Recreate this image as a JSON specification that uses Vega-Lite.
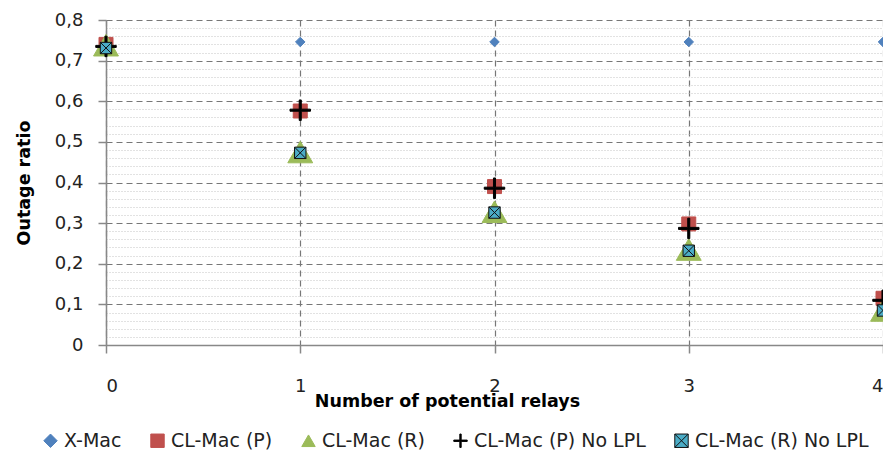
{
  "$schema": "https://vega.github.io/schema/vega-lite/v6.json",
  "autosize": {"type": "none"},
  "padding": {"left": 106, "top": 20, "right": 0, "bottom": 105},
  "width": 777,
  "height": 325,
  "background": "white",
  "config": {
    "font": "DejaVu Sans, sans-serif",
    "view": {"stroke": null}
  },
  "data": {
    "values": [
      {"relays": 0, "ratio": 0.74, "series": "X-Mac"},
      {"relays": 1, "ratio": 0.746, "series": "X-Mac"},
      {"relays": 2, "ratio": 0.746, "series": "X-Mac"},
      {"relays": 3, "ratio": 0.746, "series": "X-Mac"},
      {"relays": 4, "ratio": 0.746, "series": "X-Mac"},
      {"relays": 0, "ratio": 0.74, "series": "CL-Mac (P)"},
      {"relays": 1, "ratio": 0.576, "series": "CL-Mac (P)"},
      {"relays": 2, "ratio": 0.39, "series": "CL-Mac (P)"},
      {"relays": 3, "ratio": 0.298, "series": "CL-Mac (P)"},
      {"relays": 4, "ratio": 0.115, "series": "CL-Mac (P)"},
      {"relays": 0, "ratio": 0.738, "series": "CL-Mac (R)"},
      {"relays": 1, "ratio": 0.475, "series": "CL-Mac (R)"},
      {"relays": 2, "ratio": 0.328, "series": "CL-Mac (R)"},
      {"relays": 3, "ratio": 0.235, "series": "CL-Mac (R)"},
      {"relays": 4, "ratio": 0.085, "series": "CL-Mac (R)"},
      {"relays": 0, "ratio": 0.735, "series": "CL-Mac (P) No LPL"},
      {"relays": 1, "ratio": 0.578, "series": "CL-Mac (P) No LPL"},
      {"relays": 2, "ratio": 0.386, "series": "CL-Mac (P) No LPL"},
      {"relays": 3, "ratio": 0.287, "series": "CL-Mac (P) No LPL"},
      {"relays": 4, "ratio": 0.11, "series": "CL-Mac (P) No LPL"},
      {"relays": 0, "ratio": 0.731, "series": "CL-Mac (R) No LPL"},
      {"relays": 1, "ratio": 0.473, "series": "CL-Mac (R) No LPL"},
      {"relays": 2, "ratio": 0.326, "series": "CL-Mac (R) No LPL"},
      {"relays": 3, "ratio": 0.232, "series": "CL-Mac (R) No LPL"},
      {"relays": 4, "ratio": 0.085, "series": "CL-Mac (R) No LPL"}
    ]
  },
  "encoding": {
    "x": {
      "field": "relays", "type": "quantitative",
      "scale": {"domain": [0, 4], "nice": false, "zero": false},
      "axis": {
        "values": [0, 1, 2, 3, 4],
        "format": "d",
        "title": "Number of potential relays",
        "titleFontSize": 17.5, "titleFontWeight": "bold", "titleColor": "#000",
        "titleX": 341, "titleY": 56, "titleBaseline": "middle",
        "labelFontSize": 18, "labelColor": "#222", "labelPadding": 24,
        "tickSize": 8, "tickColor": "#888", "tickWidth": 1.5,
        "domainColor": "#888", "domainWidth": 1.5,
        "grid": true, "gridColor": "#777", "gridDash": [6, 4], "gridWidth": 1.2
      }
    },
    "y": {
      "field": "ratio", "type": "quantitative",
      "scale": {"domain": [0, 0.8], "nice": false},
      "axis": {
        "values": [0, 0.02, 0.04, 0.06, 0.08, 0.1, 0.12, 0.14, 0.16, 0.18, 0.2, 0.22, 0.24, 0.26, 0.28, 0.3, 0.32, 0.34, 0.36, 0.38, 0.4, 0.42, 0.44, 0.46, 0.48, 0.5, 0.52, 0.54, 0.56, 0.58, 0.6, 0.62, 0.64, 0.66, 0.68, 0.7, 0.72, 0.74, 0.76, 0.78, 0.8],
        "labelExpr": "abs(datum.value*10 - round(datum.value*10)) < 0.001 ? (datum.value == 0 ? '0' : replace(format(datum.value, '.1f'), '.', ',')) : ''",
        "title": "Outage ratio",
        "titleFontSize": 17.5, "titleFontWeight": "bold", "titleColor": "#000",
        "titleX": -82, "titleBaseline": "middle",
        "labelFontSize": 18, "labelColor": "#222", "labelPadding": 15,
        "tickSize": 8, "tickWidth": 1.5,
        "tickColor": {"condition": {"test": "abs(datum.value*10 - round(datum.value*10)) < 0.001", "value": "#888"}, "value": "transparent"},
        "domainColor": "#888", "domainWidth": 1.5,
        "grid": true,
        "gridColor": {"condition": {"test": "abs(datum.value*10 - round(datum.value*10)) < 0.001", "value": "#777"}, "value": "#c4c4c4"},
        "gridDash": {"condition": {"test": "abs(datum.value*10 - round(datum.value*10)) < 0.001", "value": [6, 4]}, "value": [1, 2]},
        "gridWidth": {"condition": {"test": "abs(datum.value*10 - round(datum.value*10)) < 0.001", "value": 1.2}, "value": 1}
      }
    },
    "shape": {
      "field": "series", "type": "nominal",
      "scale": {
        "domain": ["X-Mac", "CL-Mac (P)", "CL-Mac (R)", "CL-Mac (P) No LPL", "CL-Mac (R) No LPL"],
        "range": ["diamond", "square", "triangle-up", "M-1,-0.1H-0.1V-1H0.1V-0.1H1V0.1H0.1V1H-0.1V0.1H-1Z", "M-1,-1H1V1H-1Z M-1,-1L1,1 M1,-1L-1,1"]
      },
      "legend": {
        "title": null, "orient": "none", "direction": "horizontal", "legendX": -65, "legendY": 411,
        "labelFontSize": 19, "labelColor": "#222", "labelLimit": 400, "symbolSize": 180,
        "columnPadding": 26, "symbolStrokeWidth": 1, "labelOffset": 4
      }
    },
    "fill": {
      "field": "series", "type": "nominal",
      "scale": {
        "domain": ["X-Mac", "CL-Mac (P)", "CL-Mac (R)", "CL-Mac (P) No LPL", "CL-Mac (R) No LPL"],
        "range": ["#4F81BD", "#C0504D", "#9BBB59", "#000000", "#4BACC6"]
      },
      "legend": {
        "title": null, "orient": "none", "direction": "horizontal", "legendX": -65, "legendY": 411,
        "labelFontSize": 19, "labelColor": "#222", "labelLimit": 400, "symbolSize": 180,
        "columnPadding": 26, "symbolStrokeWidth": 1, "labelOffset": 4
      }
    },
    "stroke": {
      "field": "series", "type": "nominal",
      "scale": {
        "domain": ["X-Mac", "CL-Mac (P)", "CL-Mac (R)", "CL-Mac (P) No LPL", "CL-Mac (R) No LPL"],
        "range": ["#4F81BD", "#C0504D", "#9BBB59", "#000000", "#111111"]
      },
      "legend": {
        "title": null, "orient": "none", "direction": "horizontal", "legendX": -65, "legendY": 411,
        "labelFontSize": 19, "labelColor": "#222", "labelLimit": 400, "symbolSize": 180,
        "columnPadding": 26, "symbolStrokeWidth": 1, "labelOffset": 4
      }
    }
  },
  "layer": [
    {"transform": [{"filter": "datum.series == 'X-Mac'"}], "mark": {"type": "point", "filled": false, "strokeWidth": 1, "opacity": 1, "clip": false, "size": 90}},
    {"transform": [{"filter": "datum.series == 'CL-Mac (P)'"}], "mark": {"type": "point", "filled": false, "strokeWidth": 1, "opacity": 1, "clip": false, "size": 196}},
    {"transform": [{"filter": "datum.series == 'CL-Mac (R)'"}], "mark": {"type": "point", "filled": false, "strokeWidth": 1, "opacity": 1, "clip": false, "size": 620}},
    {"transform": [{"filter": "datum.series == 'CL-Mac (P) No LPL'"}], "mark": {"type": "point", "filled": false, "strokeWidth": 1, "opacity": 1, "clip": false, "size": 420}},
    {"transform": [{"filter": "datum.series == 'CL-Mac (R) No LPL'"}], "mark": {"type": "point", "filled": false, "strokeWidth": 1, "opacity": 1, "clip": false, "size": 130}}
  ]
}
